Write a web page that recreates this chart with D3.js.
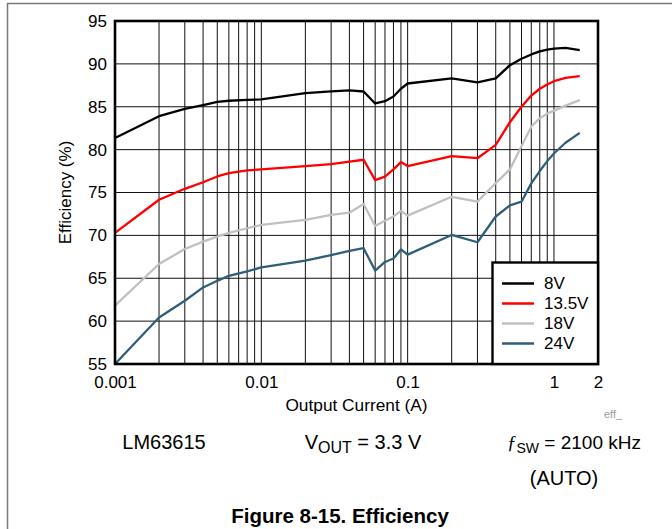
<!DOCTYPE html>
<html>
<head>
<meta charset="utf-8">
<script src="https://cdn.jsdelivr.net/npm/d3@7"></script>
<style>
  html, body { margin: 0; padding: 0; background: #fff; }
  svg { display: block; font-family: "Liberation Sans", Arial, Helvetica, sans-serif; }
</style>
</head>
<body>
<svg id="chart" width="672" height="529"></svg>
<script>
// ---- data ----
const currents = [0.001, 0.002, 0.003, 0.004, 0.005, 0.006, 0.008, 0.01, 0.02, 0.03, 0.04, 0.05,
                  0.06, 0.07, 0.08, 0.09, 0.1, 0.2, 0.3, 0.4, 0.5, 0.6, 0.7, 0.8, 0.9, 1.0, 1.2, 1.5];
const eff8V   = [81.35, 83.9, 84.75, 85.2, 85.56, 85.7, 85.8, 85.85, 86.58, 86.8, 86.9, 86.78,
                 85.38, 85.65, 86.2, 87.1, 87.71, 88.3, 87.85, 88.3, 89.85, 90.6, 91.1, 91.45, 91.65, 91.78, 91.87, 91.6];
const eff13V  = [70.3, 74.15, 75.43, 76.2, 76.87, 77.26, 77.57, 77.69, 78.08, 78.3, 78.6, 78.82,
                 76.45, 76.85, 77.7, 78.55, 78.08, 79.25, 79.0, 80.56, 83.2, 85.0, 86.3, 87.1, 87.6, 87.98, 88.37, 88.56];
const eff18V  = [61.8, 66.66, 68.41, 69.27, 69.85, 70.29, 70.83, 71.22, 71.8, 72.4, 72.65, 73.65,
                 71.1, 71.7, 72.2, 72.85, 72.3, 74.5, 73.93, 76.1, 77.69, 80.4, 82.66, 83.67, 84.2, 84.55, 85.13, 85.77];
const eff24V  = [55.0, 60.42, 62.37, 63.93, 64.7, 65.29, 65.8, 66.27, 67.05, 67.7, 68.2, 68.5,
                 65.9, 66.9, 67.3, 68.35, 67.75, 70.05, 69.2, 72.2, 73.5, 73.93, 76.06, 77.5, 78.66, 79.55, 80.8, 81.96];
const seriesNames  = ["8V", "13.5V", "18V", "24V"];
const seriesColors = ["#000000", "#ff0000", "#c0c0c0", "#2f5f78"];
const xTickValues  = [0.001, 0.01, 0.1, 1, 2];
const xTickLabels  = ["0.001", "0.01", "0.1", "1", "2"];
const yTickValues  = [55, 60, 65, 70, 75, 80, 85, 90, 95];

const seriesValues = [eff8V, eff13V, eff18V, eff24V];

// ---- layout ----
const L = 115, R = 598, T = 21, B = 364;
const svg = d3.select("#chart");

const x = d3.scaleLog().domain([0.001, 2]).range([L, R]);
const y = d3.scaleLinear().domain([55, 95]).range([B, T]);

// outer document frame lines
svg.append("line").attr("x1", 7).attr("x2", 672).attr("y1", 3.5).attr("y2", 3.5)
  .attr("stroke", "#7a7a7a").attr("stroke-width", 1.5);
svg.append("line").attr("x1", 7.5).attr("x2", 7.5).attr("y1", 3).attr("y2", 529)
  .attr("stroke", "#7a7a7a").attr("stroke-width", 1.5);

// grid
const grid = svg.append("g");
grid.selectAll("line.vx").data(x.ticks()).enter().append("line")
  .attr("x1", d => x(d)).attr("x2", d => x(d)).attr("y1", T).attr("y2", B)
  .attr("stroke", "#111").attr("stroke-width", 1);
grid.selectAll("line.hy").data(yTickValues).enter().append("line")
  .attr("x1", L).attr("x2", R).attr("y1", d => y(d)).attr("y2", d => y(d))
  .attr("stroke", "#111").attr("stroke-width", 1);

// axes labels via d3 axes
const yAxis = d3.axisLeft(y).tickValues(yTickValues).tickSize(0).tickPadding(8);
const gy = svg.append("g").attr("transform", `translate(${L},0)`).call(yAxis);
gy.select(".domain").remove();
gy.selectAll("text").attr("font-size", 17).attr("fill", "#000")
  .attr("font-family", "Liberation Sans, Arial, sans-serif");

const xAxis = d3.axisBottom(x).tickValues(xTickValues)
  .tickFormat((d, i) => xTickLabels[i]).tickSize(0).tickPadding(12);
const gx = svg.append("g").attr("transform", `translate(0,${B})`).call(xAxis);
gx.select(".domain").remove();
gx.selectAll("text").attr("font-size", 17).attr("fill", "#000")
  .attr("font-family", "Liberation Sans, Arial, sans-serif");

// curves
const line = d3.line().x(d => x(d[0])).y(d => y(d[1]));
seriesValues.forEach((vals, i) => {
  svg.append("path")
    .datum(currents.map((c, j) => [c, vals[j]]))
    .attr("d", line)
    .attr("fill", "none")
    .attr("stroke", seriesColors[i])
    .attr("stroke-width", 2.3)
    .attr("stroke-linejoin", "round");
});

// plot frame
svg.append("rect").attr("x", L).attr("y", T).attr("width", R - L).attr("height", B - T)
  .attr("fill", "none").attr("stroke", "#000").attr("stroke-width", 2.6);

// legend
const lg = svg.append("g");
lg.append("rect").attr("x", 492.5).attr("y", 262.5).attr("width", R - 492.5).attr("height", B - 262.5)
  .attr("fill", "#fff").attr("stroke", "#000").attr("stroke-width", 2.4);
seriesNames.forEach((name, i) => {
  const yy = 283.5 + i * 20;
  lg.append("line").attr("x1", 502).attr("x2", 534).attr("y1", yy).attr("y2", yy)
    .attr("stroke", seriesColors[i]).attr("stroke-width", 2.5);
  lg.append("text").attr("x", 544).attr("y", yy).attr("dy", "0.35em")
    .attr("font-size", 17).text(name);
});

// axis titles
svg.append("text").attr("transform", `translate(71,${(T + B) / 2}) rotate(-90)`)
  .attr("text-anchor", "middle").attr("font-size", 17).text("Efficiency (%)");
svg.append("text").attr("x", (L + R) / 2).attr("y", 411).attr("text-anchor", "middle")
  .attr("font-size", 17.3).text("Output Current (A)");
svg.append("text").attr("x", 604).attr("y", 418).attr("font-size", 11).attr("fill", "#9a9a9a").text("eff_");

// conditions
svg.append("text").attr("x", 164).attr("y", 449).attr("text-anchor", "middle")
  .attr("font-size", 20).text("LM63615");
const vt = svg.append("text").attr("x", 363).attr("y", 449).attr("text-anchor", "middle").attr("font-size", 20);
vt.append("tspan").text("V");
vt.append("tspan").attr("font-size", 16).attr("dy", 4).text("OUT");
vt.append("tspan").attr("dy", -4).text(" = 3.3 V");
const ft = svg.append("text").attr("x", 641).attr("y", 449).attr("text-anchor", "end").attr("font-size", 19);
ft.append("tspan").attr("font-style", "italic").attr("font-family", "Liberation Serif, serif").text("ƒ");
ft.append("tspan").attr("font-size", 14).attr("dy", 4).text("SW");
ft.append("tspan").attr("dy", -4).text(" = 2100 kHz");
svg.append("text").attr("x", 564).attr("y", 485).attr("text-anchor", "middle")
  .attr("font-size", 20).text("(AUTO)");

// figure caption
svg.append("text").attr("x", 340).attr("y", 523).attr("text-anchor", "middle")
  .attr("font-size", 20.5).attr("font-weight", "bold").text("Figure 8-15. Efficiency");
</script>
</body>
</html>
